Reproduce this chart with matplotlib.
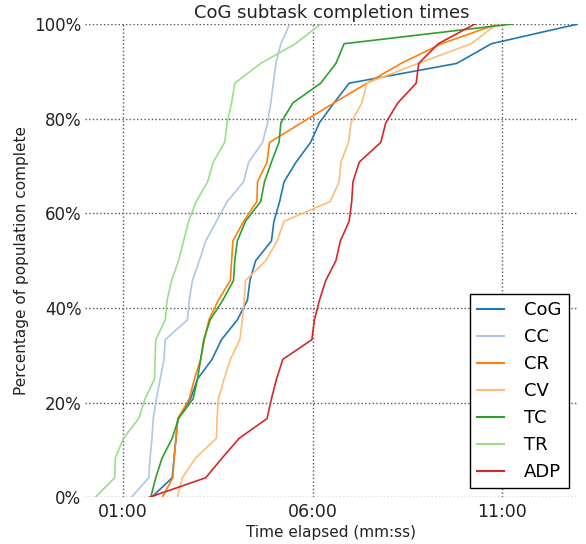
import matplotlib
matplotlib.use("Agg")
import matplotlib.pyplot as plt
from matplotlib.ticker import FuncFormatter, FixedLocator
import numpy as np

# completion times in seconds, sorted, per subtask
series_names = ["CoG", "CC", "CR", "CV", "TC", "TR", "ADP"]
CoG = [105, 138, 141, 144, 147, 167, 178, 201, 216, 241, 257, 261, 270, 295, 299, 308, 315, 334, 357, 371, 394, 418, 588, 643, 780]
CC = [73, 101, 103, 106, 108, 113, 119, 125, 127, 162, 165, 170, 181, 191, 208, 225, 251, 259, 281, 289, 294, 298, 302, 310, 324]
CR = [122, 139, 141, 144, 147, 165, 173, 183, 189, 196, 211, 230, 232, 234, 251, 272, 273, 288, 292, 343, 394, 446, 500, 564, 653]
CV = [146, 154, 175, 208, 209, 211, 220, 230, 245, 249, 252, 254, 286, 304, 315, 388, 402, 405, 417, 421, 438, 446, 527, 611, 652]
TC = [104, 112, 122, 138, 148, 171, 178, 183, 188, 198, 218, 235, 237, 241, 254, 278, 284, 295, 307, 310, 329, 373, 397, 410, 676]
TR = [16, 47, 48, 61, 85, 95, 110, 111, 112, 127, 130, 137, 148, 156, 164, 176, 194, 203, 221, 225, 232, 237, 278, 333, 373]
ADP = [101, 191, 217, 244, 288, 295, 303, 313, 359, 363, 371, 381, 397, 404, 418, 422, 424, 434, 468, 476, 495, 524, 528, 559, 617]

data = {"CoG": CoG, "CC": CC, "CR": CR, "CV": CV, "TC": TC, "TR": TR, "ADP": ADP}
colors = {"CoG": "#1f77b4", "CC": "#aec7e8", "CR": "#ff7f0e", "CV": "#ffbb78",
          "TC": "#2ca02c", "TR": "#98df8a", "ADP": "#d62728"}

x_ticks = [60, 360, 660]
y_ticks = [0, 20, 40, 60, 80, 100]

fig = plt.figure(figsize=(5.86, 5.44), dpi=100)
ax = fig.add_axes([0.145, 0.0855, 0.8413, 0.8704])

for name in series_names:
    t = data[name]
    pct = np.arange(len(t)) / (len(t) - 1) * 100
    ax.plot(t, pct, color=colors[name], lw=1.2, label=name)

ax.set_xlim(0, 780)
ax.set_ylim(0, 100)
ax.xaxis.set_major_locator(FixedLocator(x_ticks))
ax.yaxis.set_major_locator(FixedLocator(y_ticks))
ax.xaxis.set_major_formatter(FuncFormatter(lambda s, p: "%02d:%02d" % (int(s) // 60, int(s) % 60)))
ax.yaxis.set_major_formatter(FuncFormatter(lambda v, p: "%d%%" % v))
ax.tick_params(axis="x", length=0, labelsize=12.5, pad=4, labelcolor="#222222")
ax.tick_params(axis="y", length=0, labelsize=12, pad=2.5, labelcolor="#222222")
for sp in ax.spines.values():
    sp.set_visible(False)
ax.grid(True, linestyle=":", color="#555555", lw=1)
ax.set_axisbelow(True)

ax.set_title("CoG subtask completion times", fontsize=13, pad=4, color="#222222")
ax.set_xlabel("Time elapsed (mm:ss)", fontsize=11, labelpad=3, color="#222222")
ax.set_ylabel("Percentage of population complete", fontsize=11, labelpad=4, color="#222222")

leg = ax.legend(loc="lower right", fontsize=13, fancybox=False, framealpha=1,
                edgecolor="black", handlelength=1.5, handletextpad=1.1,
                borderaxespad=0.5)
leg.get_frame().set_linewidth(1.0)
for h in leg.get_lines():
    h.set_linewidth(1.5)

fig.savefig("out.png", dpi=100)
